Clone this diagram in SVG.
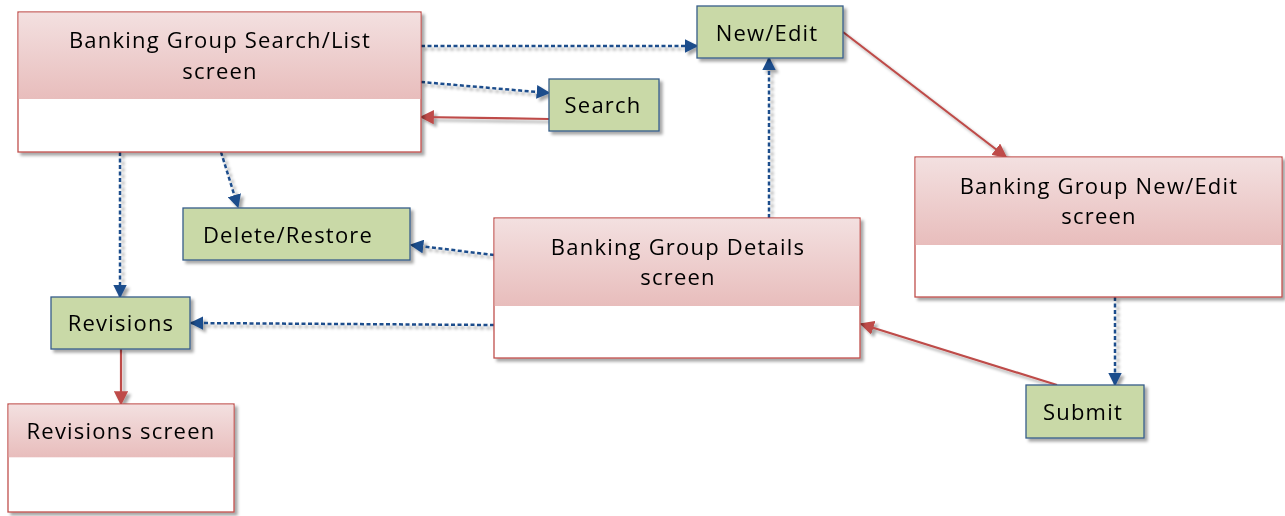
<svg xmlns="http://www.w3.org/2000/svg" width="1285" height="516" viewBox="0 0 1285 516">
<style>
.scr{fill:#fff;stroke:#C0504D;stroke-width:1.3}
.hdr{fill:url(#pink)}
.act{fill:#C9D9A7;stroke:#385D8A;stroke-width:1.3}
text{font-family:"Open Sans","Liberation Sans",sans-serif;font-size:22px;letter-spacing:1.2px;fill:#000;text-anchor:middle}
.dash{fill:none;stroke:#1F4E8C;stroke-width:2.5;stroke-dasharray:4 2.5;marker-end:url(#ab)}
.solid{fill:none;stroke:#BE4B48;stroke-width:2.2;marker-end:url(#ar)}
</style>
<defs>
<linearGradient id="pink" x1="0" y1="0" x2="0" y2="1">
<stop offset="0" stop-color="#F3E0E0"/>
<stop offset="1" stop-color="#E8BDBC"/>
</linearGradient>
<filter id="sh" x="-10%" y="-10%" width="130%" height="140%">
<feDropShadow dx="3" dy="3" stdDeviation="1.5" flood-color="#000" flood-opacity="0.35"/>
</filter>
<marker id="ab" viewBox="0 0 10 10" refX="9" refY="5" markerWidth="5.5" markerHeight="5.5" orient="auto" markerUnits="strokeWidth">
<path d="M0,0 L10,5 L0,10 z" fill="#1F4E8C"/>
</marker>
<marker id="ar" viewBox="0 0 10 10" refX="9" refY="5" markerWidth="6.5" markerHeight="6.5" orient="auto" markerUnits="strokeWidth">
<path d="M0,0 L10,5 L0,10 z" fill="#BE4B48"/>
</marker>
</defs>
<rect width="1285" height="516" fill="#fff"/>
<g id="connectors" filter="url(#sh)">
<path class="dash" d="M421,46 L697,46"/>
<path class="dash" d="M421,82 L549,93"/>
<path class="solid" d="M549,119 L421,117"/>
<path class="dash" d="M120,152 L120,297"/>
<path class="dash" d="M221,152 L238,207"/>
<path class="dash" d="M494,255 L411,245"/>
<path class="dash" d="M494,325 L191,323"/>
<path class="dash" d="M769,218 L769,58"/>
<path class="solid" d="M843,32 L1006,157"/>
<path class="dash" d="M1115,297 L1115,385"/>
<path class="solid" d="M1057,385 L861,324"/>
<path class="solid" d="M121,349 L121,404"/>
</g>
<g id="search-list-screen" filter="url(#sh)">
<rect class="scr" x="18" y="12" width="403" height="140"/>
<rect class="hdr" x="18.7" y="12.7" width="401.6" height="86.3"/>
<text x="220" y="48">Banking Group Search/List</text>
<text x="220" y="79">screen</text>
</g>
<g id="new-edit" filter="url(#sh)">
<rect class="act" x="697" y="6" width="146" height="52"/>
<text x="767" y="41">New/Edit</text>
</g>
<g id="search" filter="url(#sh)">
<rect class="act" x="549" y="79" width="110" height="52"/>
<text x="603" y="113">Search</text>
</g>
<g id="delete-restore" filter="url(#sh)">
<rect class="act" x="183" y="208" width="227" height="52"/>
<text x="288" y="243">Delete/Restore</text>
</g>
<g id="revisions" filter="url(#sh)">
<rect class="act" x="51" y="297" width="139" height="52"/>
<text x="121" y="331">Revisions</text>
</g>
<g id="revisions-screen" filter="url(#sh)">
<rect class="scr" x="8" y="404" width="226" height="108"/>
<rect class="hdr" x="8.7" y="404.7" width="224.6" height="52.6"/>
<text x="121" y="439">Revisions screen</text>
</g>
<g id="details-screen" filter="url(#sh)">
<rect class="scr" x="494" y="218" width="366" height="140"/>
<rect class="hdr" x="494.7" y="218.7" width="364.6" height="87.3"/>
<text x="678" y="255">Banking Group Details</text>
<text x="678" y="285">screen</text>
</g>
<g id="new-edit-screen" filter="url(#sh)">
<rect class="scr" x="915" y="157" width="367" height="140"/>
<rect class="hdr" x="915.7" y="157.7" width="365.6" height="87.3"/>
<text x="1099" y="194">Banking Group New/Edit</text>
<text x="1099" y="224">screen</text>
</g>
<g id="submit" filter="url(#sh)">
<rect class="act" x="1026" y="385" width="118" height="53"/>
<text x="1083" y="420">Submit</text>
</g>
</svg>
